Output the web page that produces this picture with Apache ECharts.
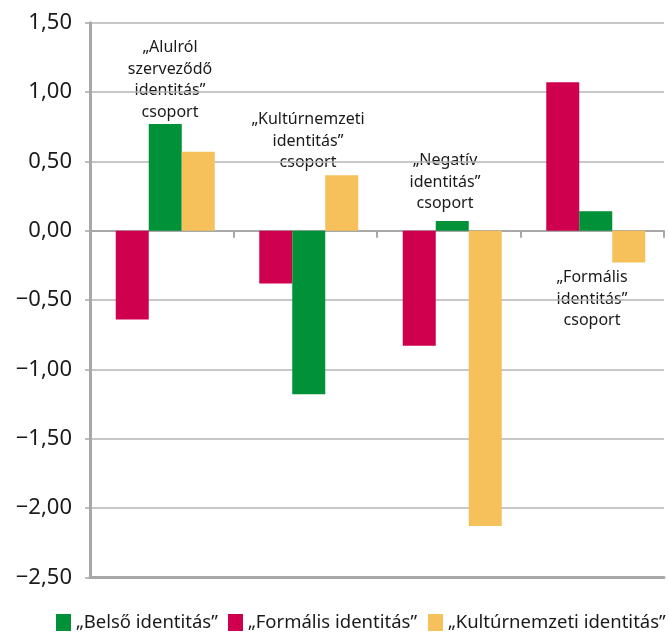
<!DOCTYPE html>
<html>
<head>
<meta charset="utf-8">
<script src="https://cdn.jsdelivr.net/npm/echarts@6/dist/echarts.min.js"></script>
<style>
  html, body { margin: 0; padding: 0; background: #fff; }
  #chart { width: 668px; height: 633px; }
</style>
</head>
<body>
<div id="chart"></div>
<script>
// ---- data ----
const groups = ['Alulról szerveződő', 'Kultúrnemzeti', 'Negatív', 'Formális'];
const formalis = [-0.64, -0.38, -0.83, 1.07];
const belso = [0.77, -1.18, 0.07, 0.14];
const kulturnemzeti = [0.57, 0.40, -2.13, -0.23];
const seriesNames = ['„Belső identitás”', '„Formális identitás”', '„Kultúrnemzeti identitás”'];
const groupLabels = [
    '„Alulról\nszerveződő\nidentitás”\ncsoport',
    '„Kultúrnemzeti\nidentitás”\ncsoport',
    '„Negatív\nidentitás”\ncsoport',
    '„Formális\nidentitás”\ncsoport'
];

const FONT = '"Noto Sans", sans-serif';
const GREY = '#a8a8a8';

const chart = echarts.init(document.getElementById('chart'));

function fmt(v) {
    return v.toFixed(2).replace('.', ',').replace('-', '\u2212');
}

// annotation text placed near each group
const labelPos = [[170, 37], [308, 109], [445, 150], [592, 267]];
// one legend per item so the row never wraps
const legendLeft = [56, 228, 428];

chart.setOption({
    animation: false,
    grid: { left: 90, right: 4, top: 22.7, bottom: 55.6 },
    legend: seriesNames.map((name, i) => ({
        data: [name],
        left: legendLeft[i],
        top: 613,
        padding: 0,
        icon: 'rect',
        itemWidth: 15,
        itemHeight: 17,
        textStyle: { fontFamily: FONT, fontSize: 18.5, color: '#1a1a1a' }
    })),
    xAxis: [{
        type: 'category',
        data: groups,
        axisLine: { onZero: true, lineStyle: { color: GREY, width: 2 } },
        axisTick: { show: true, length: 7, lineStyle: { color: GREY, width: 2 } },
        axisLabel: { show: false }
    }, {
        type: 'category',
        data: groups,
        position: 'bottom',
        axisLine: { onZero: false, lineStyle: { color: GREY, width: 3 } },
        axisTick: { show: false },
        axisLabel: { show: false }
    }],
    yAxis: {
        type: 'value',
        min: -2.5,
        max: 1.5,
        interval: 0.5,
        axisLine: { show: true, lineStyle: { color: GREY, width: 3 } },
        axisTick: { show: true, length: 5, lineStyle: { color: GREY, width: 1.5 } },
        splitLine: { lineStyle: { color: '#b4b4b4', width: 1.5 } },
        axisLabel: {
            margin: 18,
            fontFamily: FONT,
            fontSize: 22,
            color: '#1a1a1a',
            formatter: fmt
        }
    },
    series: [{
        // empty spacer so the bar groups sit slightly right of centre
        name: 'spacer',
        type: 'bar',
        data: [],
        barWidth: 7,
        barGap: '0%'
    }, {
        name: seriesNames[1],
        type: 'bar',
        data: formalis,
        barWidth: 33,
        barGap: '0%',
        itemStyle: { color: '#cf004d' }
    }, {
        name: seriesNames[0],
        type: 'bar',
        data: belso,
        barWidth: 33,
        barGap: '0%',
        itemStyle: { color: '#009139' }
    }, {
        name: seriesNames[2],
        type: 'bar',
        data: kulturnemzeti,
        barWidth: 33,
        barGap: '0%',
        itemStyle: { color: '#f6c15a' }
    }],
    graphic: groupLabels.map((t, i) => ({
        type: 'text',
        x: labelPos[i][0],
        y: labelPos[i][1],
        style: {
            text: t,
            align: 'center',
            verticalAlign: 'top',
            lineHeight: 21.5,
            font: '16px "Noto Sans", sans-serif',
            fill: '#1a1a1a'
        }
    }))
});
</script>
</body>
</html>
